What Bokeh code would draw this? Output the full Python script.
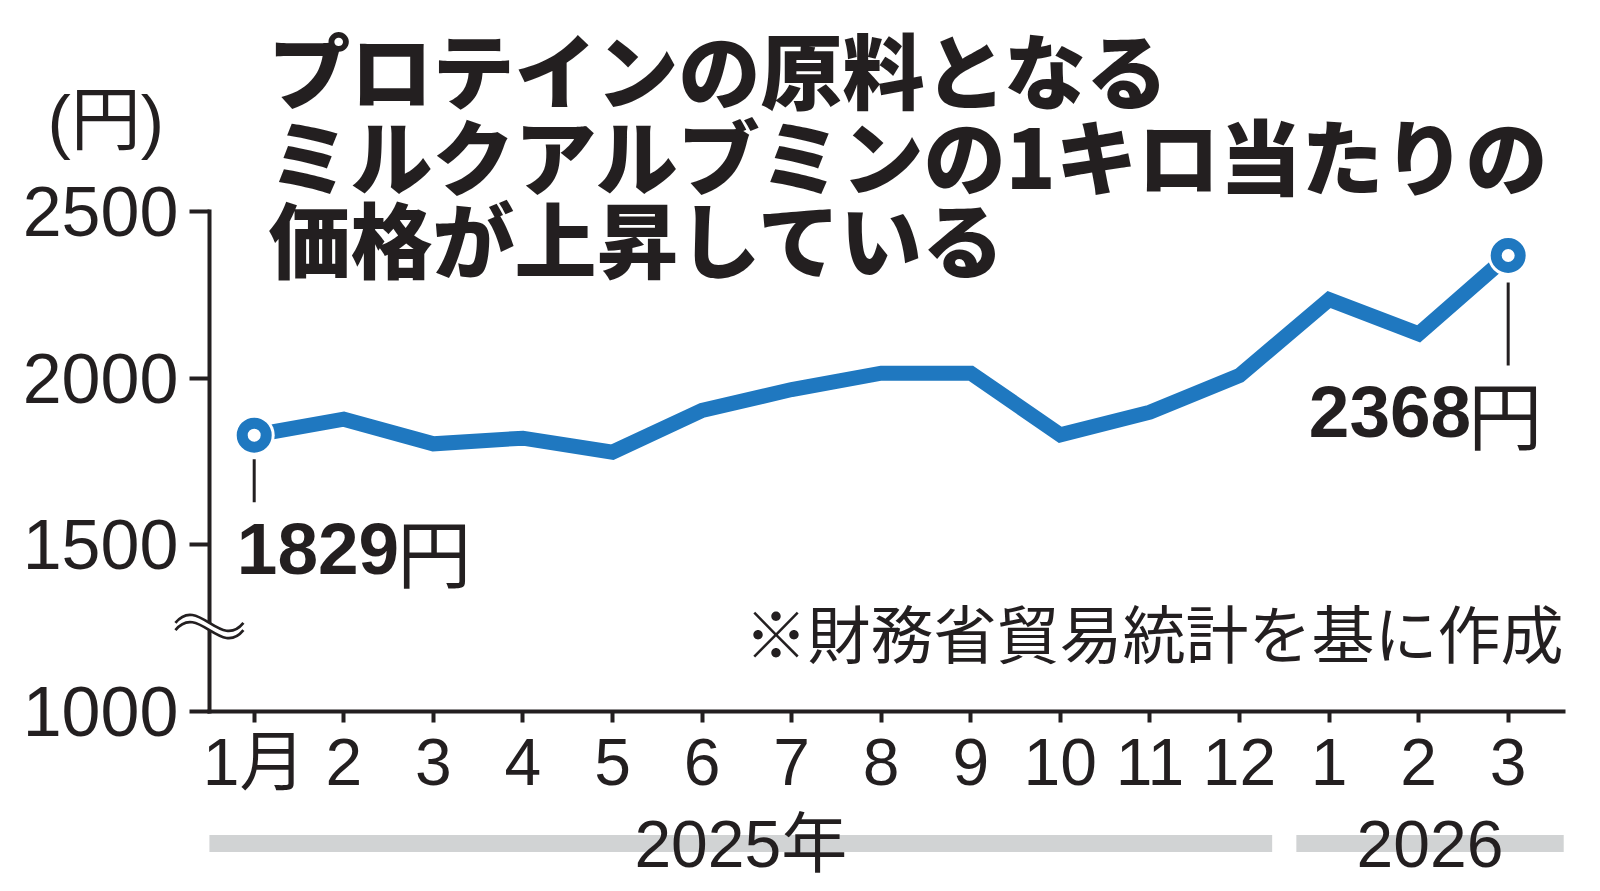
from bokeh.plotting import figure
from bokeh.models import Range1d, FixedTicker
from bokeh.core.properties import value
from bokeh.embed import file_html
from bokeh.resources import INLINE

# ---------------- data ----------------
MONTH_LABELS = ["1月", "2", "3", "4", "5", "6", "7", "8", "9", "10", "11", "12", "1", "2", "3"]
PRICES = [1829, 1877, 1803, 1820, 1778, 1903, 1966, 2015, 2015, 1830, 1898, 2008, 2236, 2133, 2368]
YEARS = ["2025年", "2026"]
YEAR_FIRST = [0, 12]
YEAR_LAST = [11, 14]
Y_TICKS = [1000, 1500, 2000, 2500]
HIGHLIGHT = [0, 14]
TITLE_LINES = ["プロテインの原料となる", "ミルクアルブミンの1キロ当たりの", "価格が上昇している"]
UNIT_LABEL = "(円)"
SOURCE_NOTE = "※財務省貿易統計を基に作成"
YEN = "円"

# ---------------- layout ----------------
W, H = 1600, 891
PX_PER_IDX = 89.57
PX_PER_VAL = 1.0 / 3.0
IDX0_PX = 253.7      # canvas x of first month
Y2500_PX = 211.0     # canvas y of 2500
x_start = -IDX0_PX / PX_PER_IDX
x_end = x_start + W / PX_PER_IDX
y_end = 2500 + Y2500_PX / PX_PER_VAL
y_start = y_end - H / PX_PER_VAL


def sx(cx):
    return x_start + cx / PX_PER_IDX


def sy(cy):
    return y_end - cy / PX_PER_VAL


INK = "#231f20"
BLUE = "#1f78c0"
GREY = "#d1d3d4"
NUM_FONT = "Liberation Sans, Noto Sans CJK JP"
JP_FONT = "Noto Sans CJK JP"
JP_HEAVY = "Noto Sans CJK JP Black, Noto Sans CJK JP"

p = figure(width=W, height=H, output_backend="svg", toolbar_location=None,
           x_range=Range1d(x_start, x_end), y_range=Range1d(y_start, y_end),
           min_border=0, outline_line_color=None, background_fill_color="white",
           border_fill_color="white")
p.grid.visible = False

AX_END = len(MONTH_LABELS) - 1 + 0.62

xa = p.xaxis[0]
xa.fixed_location = Y_TICKS[0]
xa.bounds = (-0.5, AX_END)
xa.ticker = FixedTicker(ticks=list(range(len(MONTH_LABELS))))
xa.major_label_overrides = {i: m for i, m in enumerate(MONTH_LABELS)}
xa.minor_tick_line_color = None
xa.major_tick_in = 0
xa.major_tick_out = 11
xa.major_tick_line_width = 4
xa.major_tick_line_color = INK
xa.axis_line_width = 4
xa.axis_line_color = INK
xa.axis_line_cap = "square"
xa.major_label_standoff = 2
xa.major_label_text_font = NUM_FONT
xa.major_label_text_font_size = "66px"
xa.major_label_text_color = INK

ya = p.yaxis[0]
ya.fixed_location = -0.5
ya.bounds = (Y_TICKS[0], Y_TICKS[-1])
ya.ticker = FixedTicker(ticks=Y_TICKS)
ya.major_label_overrides = {t: str(t) for t in Y_TICKS}
ya.minor_tick_line_color = None
ya.major_tick_in = 0
ya.major_tick_out = 20
ya.major_tick_line_width = 4
ya.major_tick_line_color = INK
ya.axis_line_width = 4
ya.axis_line_color = INK
ya.axis_line_cap = "square"
ya.major_label_standoff = 11
ya.major_label_text_font = "Liberation Sans"
ya.major_label_text_font_size = "70px"
ya.major_label_text_color = INK

# ---------------- year bars ----------------
GAP = 0.135
lefts, rights, centers = [], [], []
for k, (a, b) in enumerate(zip(YEAR_FIRST, YEAR_LAST)):
    l = a - 0.5 + (GAP if k > 0 else 0)
    r = b + 0.5 - GAP if k < len(YEARS) - 1 else AX_END
    lefts.append(l)
    rights.append(r)
    centers.append((l + r) / 2)
bar_y = sy(843)
bar_h = 8.5 / PX_PER_VAL
p.quad(left=lefts, right=rights, bottom=[bar_y - bar_h] * len(YEARS), top=[bar_y + bar_h] * len(YEARS),
       fill_color=GREY, line_color=None)
p.text(x=centers, y=[sy(843)] * len(YEARS), text=YEARS, text_font=value(NUM_FONT),
       text_font_size="66px", text_align="center", text_baseline="middle", text_color=INK)

# ---------------- series ----------------
xs = list(range(len(PRICES)))
p.line(xs, PRICES, line_width=15, line_color=BLUE, line_join="miter")

hx = [xs[i] for i in HIGHLIGHT]
hy = [PRICES[i] for i in HIGHLIGHT]

# leader lines
LEAD_START = [24, 27]
LEAD_END = [67, 110]
p.segment(x0=hx, x1=hx, y0=[v - s / PX_PER_VAL for v, s in zip(hy, LEAD_START)],
          y1=[v - e / PX_PER_VAL for v, e in zip(hy, LEAD_END)], line_color=INK, line_width=3)

p.scatter(hx, hy, size=41, marker="circle", fill_color="white", line_color=None)
p.scatter(hx, hy, size=24, marker="circle", fill_color="white", line_color=BLUE, line_width=11)

# value labels
p.text(x=hx, y=hy, text=[str(v) for v in hy], x_offset=[145, -37], y_offset=[114, 156],
       text_font=value("Liberation Sans"), text_font_style="bold",
       text_font_size="73px", text_align="right", text_baseline="middle", text_color=INK)
p.text(x=hx, y=hy, text=[YEN] * len(hx), x_offset=[143, -40], y_offset=[114, 156],
       text_font=value(JP_FONT), text_font_size="74px", text_align="left",
       text_baseline="middle", text_color=INK)

# ---------------- axis break symbol ----------------
bx = -0.5
byc = sy(626)
half = 34 / PX_PER_IDX
amp = 28 / PX_PER_VAL
for d, col, lw in [(0, "white", 5), (3.6 / PX_PER_VAL, INK, 2.7), (-3.6 / PX_PER_VAL, INK, 2.7)]:
    r = p.bezier(x0=[bx - half], y0=[byc + d], x1=[bx + half], y1=[byc + d],
                 cx0=[bx - half + 2 * half / 3], cy0=[byc + d + amp],
                 cx1=[bx - half + 4 * half / 3], cy1=[byc + d - amp],
                 line_color=col, line_width=lw)
    r.level = "overlay"

# ---------------- texts ----------------
p.text(x=[sx(268)] * 3, y=[sy(67), sy(153), sy(236)], text=TITLE_LINES,
       text_font=value(JP_HEAVY), text_font_style="bold", text_font_size="82px",
       text_align="left", text_baseline="middle", text_color=INK)
p.text(x=[sx(47)], y=[sy(120)], text=[UNIT_LABEL], text_font=value("Liberation Sans, Noto Sans CJK JP"),
       text_font_size="70px", text_align="left", text_baseline="middle", text_color=INK)
p.text(x=[sx(1563)], y=[sy(630)], text=[SOURCE_NOTE], text_font=value(JP_FONT),
       text_font_size="63px", text_align="right", text_baseline="middle", text_color=INK)

open("out.html", "w").write(file_html(p, INLINE))
